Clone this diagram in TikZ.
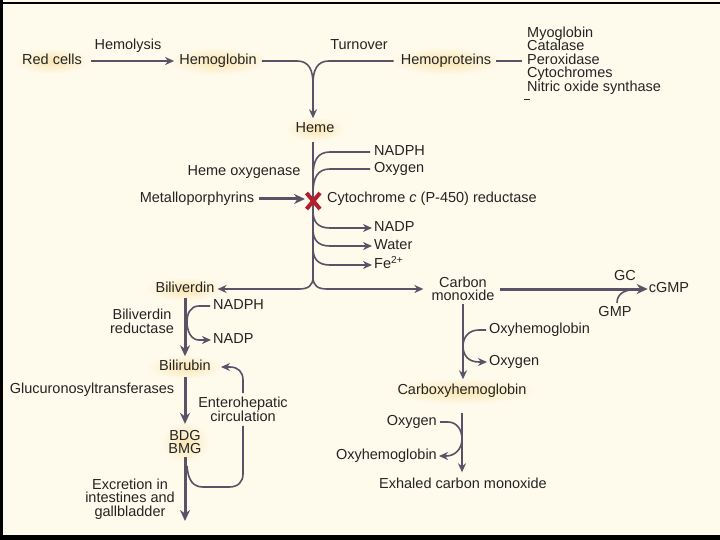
\documentclass[tikz,border=0pt]{standalone}
\usepackage{fontspec}
\setmainfont{Liberation Sans}
\usetikzlibrary{arrows.meta}
\definecolor{bg}{HTML}{FEFAEC}
\definecolor{ln}{HTML}{5A5266}
\definecolor{tx}{HTML}{242424}
\definecolor{glowc}{HTML}{F9E5B0}
\definecolor{xred}{HTML}{B41E2C}
\begin{document}
\begin{tikzpicture}[x=1pt,y=-1pt,
  lbl/.style={inner sep=0pt, text=tx, font=\fontsize{14.5}{14}\selectfont, text height=10pt, text depth=3pt},
  mlbl/.style={inner sep=0pt, text=tx, font=\fontsize{14.5}{13.6}\selectfont, align=center},
  thinln/.style={draw=ln, line width=1.6pt},
  thickln/.style={draw=ln, line width=3pt},
  arr/.style={-{Stealth[length=9pt,width=8pt]}},
  arrb/.style={-{Stealth[length=11pt,width=10pt]}},
  glow/.style={inner color=glowc, outer color=bg}
]
% background and frame
\path[use as bounding box] (0,0) rectangle (720,540);
\fill[bg] (0,0) rectangle (720,540);
\fill[black] (0,2.2) rectangle (720,4.4);
\fill[black] (0,0) rectangle (2.8,540);
\fill[black] (0,534.5) rectangle (720,540);

% glows
\shade[glow] (52,61) ellipse (38 and 13);
\shade[glow] (218,61) ellipse (50 and 14);
\shade[glow] (446,61) ellipse (56 and 14);
\shade[glow] (315,129) ellipse (30 and 12);
\shade[glow] (185,289) ellipse (40 and 12);
\shade[glow] (185,367) ellipse (38 and 12);
\shade[glow] (185,442) ellipse (24 and 21);
\shade[glow] (462,391) ellipse (75 and 13);

% nodes
\node[lbl] (redcells) at (52,61) {Red cells};
\node[lbl] (hemolysis) at (128,46) {Hemolysis};
\node[lbl] (hemoglobin) at (218,61) {Hemoglobin};
\node[lbl] (turnover) at (359,46) {Turnover};
\node[lbl] (hemoproteins) at (446,61) {Hemoproteins};
\node[mlbl, align=left, anchor=west] (list) at (527,60.5) {Myoglobin\\Catalase\\Peroxidase\\Cytochromes\\Nitric oxide synthase};
\node[lbl] (heme) at (315,129) {Heme};
\node[lbl] (hox) at (244,172) {Heme oxygenase};
\node[lbl] (metal) at (197,199) {Metalloporphyrins};
\node[lbl, anchor=west] (cyt) at (327,199) {Cytochrome \textit{c} (P-450) reductase};
\node[lbl, anchor=west] (nadph1) at (374,152) {NADPH};
\node[lbl, anchor=west] (oxy1) at (374,169) {Oxygen};
\node[lbl, anchor=west] (nadp1) at (374,228) {NADP};
\node[lbl, anchor=west] (water) at (374,246) {Water};
\node[lbl, anchor=west] (fe) at (374,265) {Fe\textsuperscript{2+}};
\node[lbl] (biliverdin) at (185,289) {Biliverdin};
\node[mlbl] (co) at (463,289) {Carbon\\monoxide};
\node[lbl] (cgmp) at (669,289) {cGMP};
\node[lbl] (gc) at (625,277) {GC};
\node[lbl] (gmp) at (615,313) {GMP};
\node[lbl, anchor=west] (oxyhb1) at (489,330) {Oxyhemoglobin};
\node[lbl, anchor=west] (oxy2) at (489,362) {Oxygen};
\node[lbl] (cohb) at (462,391) {Carboxyhemoglobin};
\node[lbl, anchor=east] (oxy3) at (437,422) {Oxygen};
\node[lbl, anchor=east] (oxyhb2) at (437,456) {Oxyhemoglobin};
\node[lbl] (exhaled) at (463,485) {Exhaled carbon monoxide};
\node[mlbl] (bvr) at (142,321.5) {Biliverdin\\reductase};
\node[lbl, anchor=west] (nadph2) at (213,306) {NADPH};
\node[lbl, anchor=west] (nadp2) at (213,340) {NADP};
\node[lbl] (bilirubin) at (185,367) {Bilirubin};
\node[lbl] (gluc) at (92,390) {Glucuronosyltransferases};
\node[mlbl] (bdg) at (185,442) {BDG\\BMG};
\node[mlbl] (entero) at (243,409.5) {Enterohepatic\\circulation};
\node[mlbl] (excr) at (130,499) {Excretion in\\intestines and\\gallbladder};

% junction coordinates
\coordinate (j1) at (313,84);
\coordinate (htop) at (313,142);
\coordinate (hbot) at (313,277);
\coordinate (excrEnd) at (185,521);

% top row
\draw[thinln,arr,shorten <=9pt,shorten >=5pt] (redcells) -- (hemoglobin);
\draw[thinln] ([xshift=5pt]hemoglobin.east) -- (297,61) .. controls (309,61) and (313,70) .. (j1);
\draw[thinln] ([xshift=-7pt]hemoproteins.west) -- (329,61) .. controls (317,61) and (313,70) .. (j1);
\draw[thinln,arr,shorten >=4pt] (j1) -- (heme.north -| j1);
\draw[thinln,shorten >=5pt] ([xshift=5pt]hemoproteins.east) -- (list.west |- hemoproteins.east);
\draw[tx, line width=0.9pt] (524,99) -- (530,99);

% heme oxygenase axis
\draw[thinln] (htop) -- (hbot);
\draw[thinln] (313,176) .. controls (313,160) and (318,152) .. (330,152) -- ([xshift=-4pt]nadph1.west);
\draw[thinln] (313,193) .. controls (313,177) and (318,169) .. (330,169) -- ([xshift=-4pt]oxy1.west);
\draw[thinln,arr,shorten >=2pt] (313,211) .. controls (313,222) and (318,228) .. (330,228) -- (nadp1.west);
\draw[thinln,arr,shorten >=2pt] (313,229) .. controls (313,240) and (318,246) .. (330,246) -- (water.west);
\draw[thinln,arr,shorten >=2pt] (313,248) .. controls (313,259) and (318,265) .. (330,265) -- (fe.west);
\draw[thinln,arr,shorten >=3pt] (hbot) .. controls (313,286) and (308,289) .. (299,289) -- (biliverdin.east);
\draw[thinln,arr,shorten >=8pt] (hbot) .. controls (313,286) and (318,289) .. (327,289) -- (co.west);

% metalloporphyrins and X
\draw[thickln,arrb] ([xshift=5pt]metal.east) -- (305,199);
\draw[xred, line width=4pt] (306.5,193) -- (320,209) (320,193) -- (306.5,209);

% carbon monoxide branch
\draw[thickln,arrb,shorten <=5pt,shorten >=1pt] (co) -- (cgmp);
\draw[thinln] ([xshift=2pt,yshift=3.5pt]gmp.north) .. controls +(0,-10) and (626,289) .. (640,289);
\draw[thinln,arr,shorten <=3pt,shorten >=5pt] (co.south) -- (co.south |- cohb.north);
\draw[thinln,arr] ([xshift=-3pt]oxyhb1.west) -- (479,330) .. controls (468,330) and (463,338) .. (463,346) .. controls (463,355) and (468,362) .. (479,362) -- ([xshift=-2pt]oxy2.west);
\draw[thinln,arr,shorten <=15pt,shorten >=6pt] (cohb.south) -- (cohb.south |- exhaled.north);
\draw[thinln,arr] ([xshift=3pt]oxy3.east) -- (448,422) .. controls (457,422) and (462,430) .. (462,439) .. controls (462,449) and (455,456) .. (446,456) -- ([xshift=2pt]oxyhb2.east);

% bilirubin branch
\draw[thickln,arrb,shorten <=2pt,shorten >=4pt] (biliverdin) -- (bilirubin);
\draw[thinln,arr] ([xshift=-3pt]nadph2.west) -- (199,306) .. controls (190,306) and (187,314) .. (187,322) .. controls (187,331) and (191,340) .. (199,340) -- ([xshift=-2pt]nadp2.west);
\draw[thickln,arrb,shorten <=3pt,shorten >=6pt] (bilirubin) -- (bdg);
\draw[thickln,arrb,shorten <=3pt] (bdg.south) -- (excrEnd);
\draw[thinln] (187,466) .. controls (188,480) and (193,487) .. (203,487) -- (229,487) .. controls (238,487) and (243,482) .. (243,474) -- ([yshift=-4pt]entero.south);
\draw[thinln,arr] ([yshift=4pt]entero.north) -- (243,380) .. controls (243,372) and (238,367) .. (230,367) -- ([xshift=10pt]bilirubin.east);
\end{tikzpicture}
\end{document}
